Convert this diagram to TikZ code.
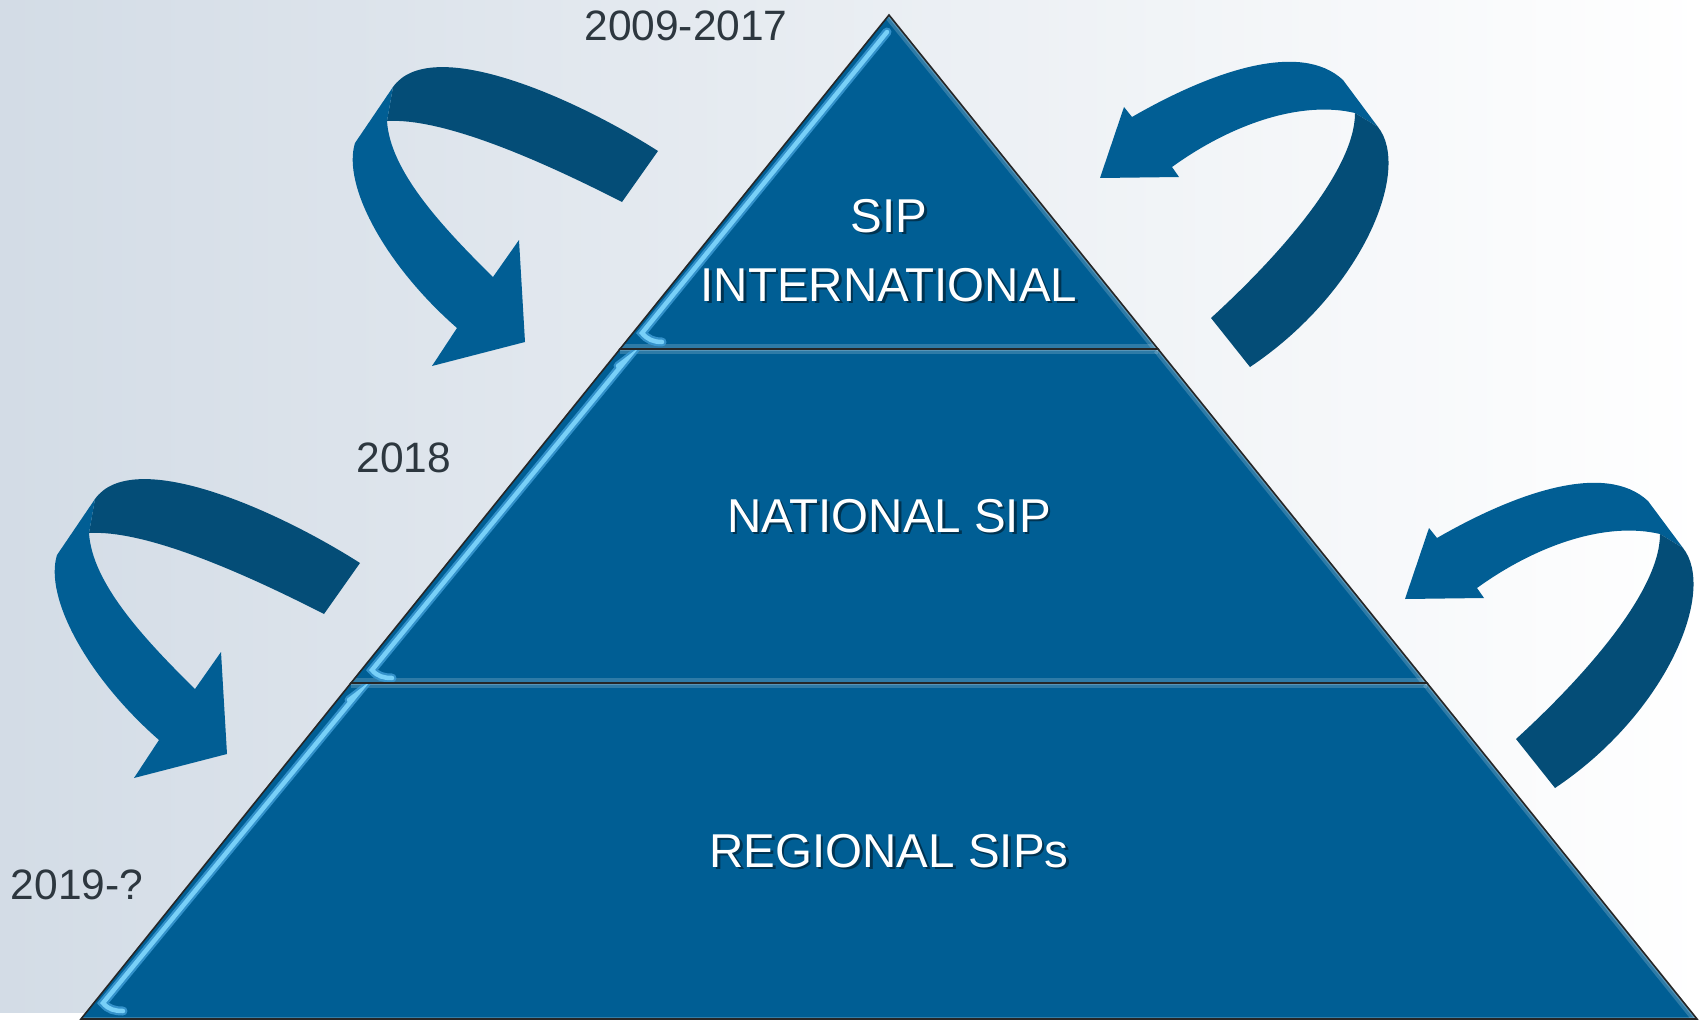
\documentclass[tikz,border=0pt]{standalone}
\usepackage{fontspec}
\setmainfont{Liberation Sans}
\definecolor{pyr}{RGB}{0,94,148}
\definecolor{bandlight}{RGB}{1,94,148}
\definecolor{banddark}{RGB}{4,77,119}
\definecolor{yeartxt}{RGB}{45,55,63}
\definecolor{bgleft}{RGB}{211,220,230}
\definecolor{hiliteout}{RGB}{60,155,212}
\definecolor{hilitein}{RGB}{120,208,248}
\newcommand\curlleft{%
  \fill[banddark] (658,151) .. controls (570,95) and (430,35) .. (393,87)
     -- (387,121) .. controls (440,118) and (530,155) .. (622,202) -- cycle;
  \fill[bandlight] (393,87) -- (355,143) .. controls (342,185) and (385,265) .. (457,328)
     -- (432,366) -- (525,342) -- (519,240) -- (493,277)
     .. controls (440,225) and (390,170) .. (387,121) -- cycle;
}
\newcommand\curlright{%
  \fill[bandlight] (1100,178) -- (1124,107) -- (1132,117)
     .. controls (1210,72) and (1300,40) .. (1343,80) -- (1378,127) -- (1355,113)
     .. controls (1300,100) and (1230,125) .. (1172,167) -- (1179,177) -- cycle;
  \fill[banddark] (1355,113) -- (1378,127) .. controls (1412,170) and (1362,292) .. (1250,367)
     -- (1211,318) .. controls (1280,255) and (1355,170) .. (1355,113) -- cycle;
}
\begin{document}
\begin{tikzpicture}[x=1pt,y=-1pt,
  yearlabel/.style={text=yeartxt,font=\fontsize{42.5}{50}\selectfont,inner sep=0pt,anchor=base},
  tierlabel/.style={text=white,font=\fontsize{47.5}{55}\selectfont,inner sep=0pt,anchor=base},
  tiershadow/.style={text=black,opacity=.45,font=\fontsize{47.5}{55}\selectfont,inner sep=0pt,anchor=base},
  tier/.style={fill=pyr,draw=black!85,line width=1.6,line join=miter},
  hiout/.style={draw=hiliteout,line width=9,line cap=round,opacity=.85},
  hiin/.style={draw=hilitein,line width=4.5,line cap=round},
  glow/.style={draw=white,opacity=.18,line width=10},
  glowthin/.style={draw=white,opacity=.2,line width=4}]
\useasboundingbox (0,0) rectangle (1706,1022);
\fill[white] (0,0) rectangle (1706,1022);
\shade[left color=bgleft,right color=white] (0,0) rectangle (1706,1012);

% curved arrows
\curlleft
\begin{scope}[shift={(-298,412)}]\curlleft\end{scope}
\curlright
\begin{scope}[shift={(305,421)}]\curlright\end{scope}

% pyramid coordinates
\coordinate (apex) at (889,15);
\coordinate (l1) at (620,349);  \coordinate (r1) at (1158,349);
\coordinate (l2) at (351,683);  \coordinate (r2) at (1427,683);
\coordinate (l3) at (81,1019);  \coordinate (r3) at (1697,1019);

% tier 1
\fill[pyr] (apex) -- (r1) -- (l1) -- cycle;
\begin{scope}
  \clip (apex) -- (r1) -- (l1) -- cycle;
  \draw[glow] (apex) -- (r1);
  \draw[glowthin] (apex) -- (r1);
  \draw[glow] (l1) -- (r1);
  \draw[hiout] (887,32) -- (642,333) to[out=-50,in=180] (662,342);
  \draw[hiin] (887,32) -- (642,333) to[out=-50,in=180] (662,342);
\end{scope}

% tier 2
\fill[pyr] (l1) -- (r1) -- (r2) -- (l2) -- cycle;
\begin{scope}
  \clip (l1) -- (r1) -- (r2) -- (l2) -- cycle;
  \draw[glow] (r1) -- (r2);
  \draw[glowthin] (r1) -- (r2);
  \draw[glow] (l1) -- (r1);
  \draw[glowthin] (l1) -- (r1);
  \draw[glow] (l2) -- (r2);
  \draw[hiout] (618,366) to[out=50,in=-128] (626,360) -- (372,670) to[out=-50,in=180] (392,678);
  \draw[hiin] (618,366) to[out=50,in=-128] (626,360) -- (372,670) to[out=-50,in=180] (392,678);
\end{scope}

% tier 3
\fill[pyr] (l2) -- (r2) -- (r3) -- (l3) -- cycle;
\begin{scope}
  \clip (l2) -- (r2) -- (r3) -- (l3) -- cycle;
  \draw[glow] (r2) -- (r3);
  \draw[glowthin] (r2) -- (r3);
  \draw[glow] (l2) -- (r2);
  \draw[glowthin] (l2) -- (r2);
  \draw[glowthin] (l3) -- (r3);
  \draw[hiout] (349,700) to[out=50,in=-128] (357,694) -- (103,1003) to[out=-50,in=180] (123,1011);
  \draw[hiin] (349,700) to[out=50,in=-128] (357,694) -- (103,1003) to[out=-50,in=180] (123,1011);
\end{scope}

% outlines
\draw[tier,fill=none] (apex) -- (r1) -- (l1) -- cycle;
\draw[tier,fill=none] (l1) -- (r1) -- (r2) -- (l2) -- cycle;
\draw[tier,fill=none] (l2) -- (r2) -- (r3) -- (l3) -- cycle;

% tier labels
\node[tiershadow] (sipS) at (891.5,234.5) {SIP};
\node[tiershadow] (intS) at (891.5,303.5) {INTERNATIONAL};
\node[tiershadow] (natS) at (891.5,534.5) {NATIONAL SIP};
\node[tiershadow] (regS) at (891.5,869.5) {REGIONAL SIPs};
\node[tierlabel] (sip) at (889,232) {SIP};
\node[tierlabel] (intl) at (889,301) {INTERNATIONAL};
\node[tierlabel] (nat) at (889,532) {NATIONAL SIP};
\node[tierlabel] (reg) at (889,867) {REGIONAL SIPs};

% year labels
\node[yearlabel] (y1) at (686,41) {2009-2017};
\node[yearlabel] (y2) at (404,472) {2018};
\node[yearlabel] (y3) at (77,899) {2019-?};
\end{tikzpicture}
\end{document}
